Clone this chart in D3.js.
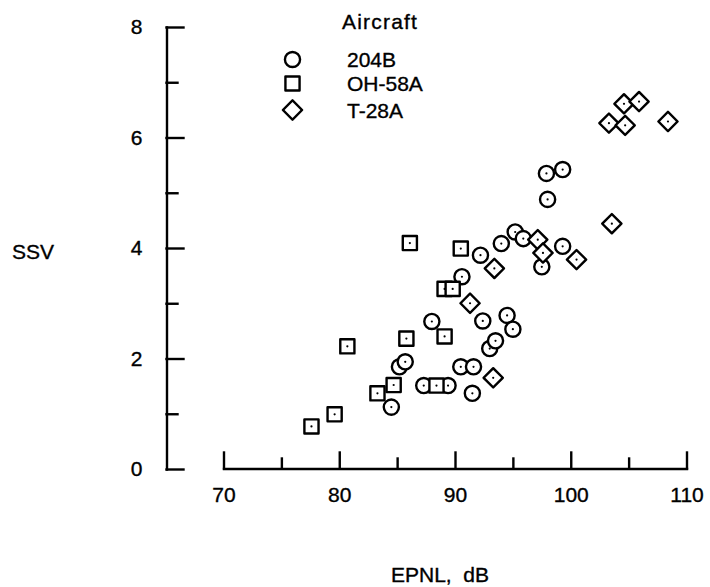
<!DOCTYPE html>
<html>
<head>
<meta charset="utf-8">
<script src="https://cdn.jsdelivr.net/npm/d3@7"></script>
<style>
body { margin: 0; background: #fff; }
text { font-family: "Liberation Sans", Arial, sans-serif; font-size: 21px; fill: #000; stroke: #000; stroke-width: 0.35px; }
</style>
</head>
<body>
<div id="chart"></div>
<script>
// Aircraft 204B (circles)
var epnl_204b = [84.5, 85.2, 85.7, 87.3, 89.4, 88.0, 90.5, 91.6, 91.5, 92.4, 93.0, 93.5,
                 94.5, 95.0, 90.6, 92.2, 94.0, 95.2, 95.9, 97.5, 99.3, 98.0, 97.9, 99.3];
var ssv_204b  = [1.12, 1.85, 1.94, 1.51, 1.51, 2.67, 1.85, 1.85, 1.37, 2.68, 2.18, 2.32,
                 2.78, 2.53, 3.48, 3.87, 4.08, 4.29, 4.17, 3.66, 4.03, 4.88, 5.35, 5.42];

// Aircraft OH-58A (squares)
var epnl_oh58a = [77.6, 79.6, 80.7, 83.3, 84.7, 85.8, 86.1, 88.4, 89.1, 89.1, 89.8, 90.5];
var ssv_oh58a  = [0.77, 0.99, 2.22, 1.37, 1.52, 2.36, 4.09, 1.51, 2.40, 3.26, 3.26, 3.99];

// Aircraft T-28A (diamonds)
var epnl_t28a = [91.3, 93.3, 93.4, 97.15, 97.6, 100.5, 103.55, 103.3, 104.7, 104.6, 105.9, 108.4];
var ssv_t28a  = [3.00, 1.65, 3.63, 4.15, 3.91, 3.79, 4.44, 6.26, 6.22, 6.61, 6.65, 6.29];

var series_names = ['204B', 'OH-58A', 'T-28A'];
var x_major = [70, 80, 90, 100, 110];
var x_minor = [75, 85, 95, 105];
var y_major = [0, 2, 4, 6, 8];
var y_minor = [1, 3, 5, 7];

var width = 710;
var height = 587;
var stroke_w = 2.4;

var svg = d3.select('#chart')
    .append('svg')
    .attr('width', width)
    .attr('height', height);

// scales
var x_scale = d3.scaleLinear()
    .domain([70, 110])
    .range([223.5, 686.5]);

var y_scale = d3.scaleLinear()
    .domain([0, 8])
    .range([469, 27]);

// x axis (ticks point up, labels below)
var x_axis = d3.axisBottom(x_scale)
    .tickValues(x_major)
    .tickSize(-16)
    .tickSizeOuter(0)
    .tickPadding(19)
    .tickFormat(d3.format('d'));

var x_axis_minor = d3.axisBottom(x_scale)
    .tickValues(x_minor)
    .tickSize(-10)
    .tickFormat('');

svg.append('g')
    .attr('transform', 'translate(0,468.5)')
    .call(x_axis);
svg.append('g')
    .attr('transform', 'translate(0,468.5)')
    .call(x_axis_minor)
    .select('.domain').remove();

// y axis (ticks point right, labels left)
var y_axis = d3.axisLeft(y_scale)
    .tickValues(y_major)
    .tickSize(-17)
    .tickSizeOuter(0)
    .tickPadding(24);

var y_axis_minor = d3.axisLeft(y_scale)
    .tickValues(y_minor)
    .tickSize(-11)
    .tickFormat('');

svg.append('g')
    .attr('transform', 'translate(166.5,0)')
    .call(y_axis);
svg.append('g')
    .attr('transform', 'translate(166.5,0)')
    .call(y_axis_minor)
    .select('.domain').remove();

svg.selectAll('.domain, .tick line')
    .attr('stroke', '#000')
    .attr('stroke-width', stroke_w)
    .attr('stroke-linecap', 'square');

// axis titles
svg.append('text')
    .attr('x', 12)
    .attr('y', 259)
    .text('SSV');

svg.append('text')
    .attr('x', 440)
    .attr('y', 582)
    .attr('text-anchor', 'middle')
    .attr('xml:space', 'preserve')
    .text('EPNL,  dB');

// marker shapes
var circle_sym = d3.symbol().type(d3.symbolCircle).size(180);
var square_sym = d3.symbol().type(d3.symbolSquare).size(200);
var diamond_sym = d3.symbol().type(d3.symbolSquare).size(185);

function draw_marker(g, kind) {
    var p = g.append('path')
        .attr('fill', '#fff')
        .attr('stroke', '#000')
        .attr('stroke-width', stroke_w)
        .attr('stroke-linejoin', 'round');
    if (kind == 0) p.attr('d', circle_sym);
    if (kind == 1) p.attr('d', square_sym);
    if (kind == 2) p.attr('d', diamond_sym).attr('transform', 'rotate(45)');
    g.append('circle')
        .attr('r', 1.1)
        .attr('fill', '#000');
}

function plot_series(xs, ys, kind) {
    var pts = xs.map(function(d, i) { return {x: d, y: ys[i]}; });
    svg.append('g')
        .selectAll('g')
        .data(pts)
        .enter()
        .append('g')
        .attr('transform', function(d) {
            return 'translate(' + x_scale(d.x) + ',' + y_scale(d.y) + ')';
        })
        .each(function() { draw_marker(d3.select(this), kind); });
}

plot_series(epnl_204b, ssv_204b, 0);
plot_series(epnl_oh58a, ssv_oh58a, 1);
plot_series(epnl_t28a, ssv_t28a, 2);

// legend
var legend = svg.append('g');
legend.append('text')
    .attr('x', 342)
    .attr('y', 29)
    .attr('letter-spacing', 1.2)
    .text('Aircraft');

var leg_y = [59.5, 83.5, 110];
series_names.forEach(function(name, i) {
    var g = legend.append('g')
        .attr('transform', 'translate(292.5,' + leg_y[i] + ')');
    var p = g.append('path')
        .attr('fill', 'none')
        .attr('stroke', '#000')
        .attr('stroke-width', stroke_w)
        .attr('stroke-linejoin', 'round');
    if (i == 0) p.attr('d', circle_sym);
    if (i == 1) p.attr('d', square_sym);
    if (i == 2) p.attr('d', diamond_sym).attr('transform', 'rotate(45)');
    legend.append('text')
        .attr('x', 347)
        .attr('y', leg_y[i] + 7.5)
        .text(name);
});
</script>
</body>
</html>
